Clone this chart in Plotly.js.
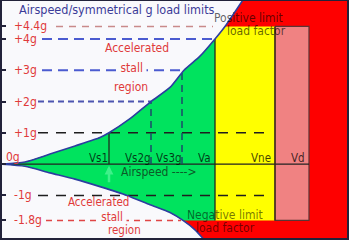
<!DOCTYPE html>
<html><head><meta charset="utf-8">
<script src="https://cdn.plot.ly/plotly-3.0.1.min.js"></script>
<style>html,body{margin:0;padding:0;background:#fff;overflow:hidden}#chart{width:350px;height:240px}</style>
</head><body><div id="chart"></div>
<script>
// ---------- data ----------
const gLevels = [4.4, 4, 3, 2, 1, 0, -1, -1.8];
const gLabels = ['+4.4g', '+4g', '+3g', '+2g', '+1g', '0g', '-1g', '-1.8g'];
const speedNames = ['Vs1', 'Vs2g', 'Vs3g', 'Va', 'Vne', 'Vd'];
const speedValues = [109, 151, 182, 215, 275, 309];
const stallSpeedLoads = [1, 2, 3];          // g reached at Vs1, Vs2g, Vs3g
const posLimit = 4.4;
const negLimit = -1.8;
const gAtVa = 4.0;
const vStallUpper = [0, 25, 50, 75, 100, 109, 130, 151, 170, 184, 200, 215, 225, 243];
const gStallUpper = [0, 0.07, 0.32, 0.58, 0.85, 1.0, 1.45, 2.0, 2.45, 3.0, 3.45, 4.0, 4.4, 5.25];
const vStallLower = [0, 25, 50, 75, 100, 127, 150, 170, 183, 195, 205];
const gStallLower = [0, -0.07, -0.28, -0.48, -0.72, -1.0, -1.3, -1.55, -1.8, -2.1, -2.45];

// ---------- layout helpers ----------
const M = {l: 2, r: 3, t: 1, b: 2};
const W = 350, H = 240;
const X0 = 2, X1 = 347;
const Y_TOP = 5.213, Y_BOT = -2.362;
const FONT = 'DejaVu Sans Condensed, DejaVu Sans, sans-serif';
function P(px, py) { return {x: (px - M.l) / (W - M.l - M.r), y: (H - M.b - py) / (H - M.t - M.b), xref: 'paper', yref: 'paper'}; }

const [Vs1, Vs2g, Vs3g, Va, Vne, Vd] = speedValues;
const traces = [];

// red: everything beyond the stall curves
{
  const x = vStallUpper.concat([X1 + 10, X1 + 10], vStallLower.slice().reverse());
  const y = gStallUpper.concat([Y_TOP + 1, Y_BOT - 1], gStallLower.slice().reverse());
  traces.push({x, y, mode: 'none', fill: 'toself', fillcolor: '#fe0000', hoverinfo: 'skip'});
}
// green: normal operating range up to Va
{
  const ux = [], uy = [], lx = [], ly = [];
  vStallUpper.forEach((v, i) => { if (v <= Va) { ux.push(v); uy.push(gStallUpper[i]); } });
  vStallLower.forEach((v, i) => { if (gStallLower[i] >= negLimit) { lx.push(v); ly.push(gStallLower[i]); } });
  const x = ux.concat([Va], lx.reverse());
  const y = uy.concat([negLimit], ly.reverse());
  traces.push({x, y, mode: 'none', fill: 'toself', fillcolor: '#00e35e', hoverinfo: 'skip'});
}
// yellow: Va to Vne
{
  const x = [], y = [];
  vStallUpper.forEach((v, i) => { if (v >= Va && gStallUpper[i] <= posLimit) { x.push(v); y.push(gStallUpper[i]); } });
  x.push(Vne, Vne, Va); y.push(posLimit, negLimit, negLimit);
  traces.push({x, y, mode: 'none', fill: 'toself', fillcolor: '#ffff00', hoverinfo: 'skip'});
}
// pink: Vne to Vd
traces.push({x: [Vne, Vd, Vd, Vne, Vne], y: [posLimit, posLimit, negLimit, negLimit, posLimit],
  mode: 'lines', fill: 'toself', fillcolor: '#f08282', line: {color: '#5a3434', width: 1.2}, hoverinfo: 'skip'});

// horizontal reference lines
const refStyle = {
  color: ['#c98a8a', '#4b5bd0', '#4b5bd0', '#4d55b0', '#1e1e1e', '#202020', '#1e1e1e', '#e04646'],
  dash:  ['7px,6px', '10px,6px', '10px,6px', '6px,4px', '10px,8px', 'solid', '10px,8px', '6px,5px'],
  width: [1.5, 2, 2, 2, 1.5, 1.3, 1.5, 1.5],
  x0:    [56, 42, 42, 38, 38, 0, 38, 46],
  x1:    [213, 213, 184, 151, 268, Vd, 268, 181]
};
gLevels.forEach((g, i) => {
  traces.push({x: [refStyle.x0[i], refStyle.x1[i]], y: [g, g], mode: 'lines',
    line: {color: refStyle.color[i], dash: refStyle.dash[i], width: refStyle.width[i]}, hoverinfo: 'skip'});
});

// vertical speed lines
traces.push({x: [Vs1, Vs1], y: [0, stallSpeedLoads[0]], mode: 'lines', line: {color: '#1e2e1e', width: 1.3}, hoverinfo: 'skip'});
[Vs2g, Vs3g].forEach((v, k) => {
  traces.push({x: [v, v], y: [0, stallSpeedLoads[k + 1]], mode: 'lines', line: {color: '#1d4a6a', width: 1.5, dash: '7px,5px'}, hoverinfo: 'skip'});
});
traces.push({x: [Va, Va], y: [negLimit, gAtVa], mode: 'lines', line: {color: '#1e2a1e', width: 1.3}, hoverinfo: 'skip'});
traces.push({x: [Vne, Vne], y: [negLimit, posLimit], mode: 'lines', line: {color: '#3a2a1a', width: 1.3}, hoverinfo: 'skip'});

// stall curves
traces.push({x: vStallUpper, y: gStallUpper, mode: 'lines', line: {color: '#2c3ea0', width: 1.6, shape: 'spline', smoothing: 0.6}, hoverinfo: 'skip'});
traces.push({x: vStallLower, y: gStallLower, mode: 'lines', line: {color: '#2c3ea0', width: 1.6, shape: 'spline', smoothing: 0.6}, hoverinfo: 'skip'});

// ---------- annotations ----------
const ann = [];
function txt(text, px, py, opts) {
  ann.push(Object.assign({text, showarrow: false, xanchor: 'center', yanchor: 'middle',
    font: {family: FONT, size: 12, color: '#e03a3a'}}, P(px, py), opts || {}));
}
txt('Airspeed/symmetrical g load limits', 17, 10, {xanchor: 'left', font: {family: FONT, size: 12.5, color: '#3b3b98'}});
gLevels.forEach((g, i) => {
  if (g === 0) {
    txt(gLabels[i], 4, 157, {xanchor: 'left'});
  } else {
    ann.push({text: gLabels[i], x: 12, y: g, xref: 'x', yref: 'y', xanchor: 'left', yanchor: 'middle', showarrow: false,
      font: {family: FONT, size: 12, color: '#e03a3a'}});
  }
});
txt('Accelerated', 137, 48);
txt(' stall ', 131, 68, {bgcolor: '#f9f9fc', borderpad: 0});
txt('region', 131, 87);
txt('Accelerated', 98, 202, {font: {family: FONT, size: 11.5, color: '#e03a3a'}});
txt(' stall ', 112, 217, {bgcolor: '#f9f9fc', borderpad: 0, font: {family: FONT, size: 11.5, color: '#e03a3a'}});
txt('region', 124, 230, {font: {family: FONT, size: 11.5, color: '#e03a3a'}});
txt('Positive limit', 248, 18, {font: {family: FONT, size: 12, color: 'rgba(0,0,0,0.62)'}});
txt('load factor', 256, 31, {font: {family: FONT, size: 12, color: 'rgba(0,0,0,0.62)'}});
txt('Negative limit', 225, 215, {font: {family: FONT, size: 12, color: 'rgba(0,0,0,0.55)'}});
txt('load factor', 226, 228, {font: {family: FONT, size: 12, color: 'rgba(0,0,0,0.55)'}});
const speedLabelX = [98.5, 137.5, 168.5, 204.5, 260.5, 298];
speedNames.forEach((n, i) => txt(n, speedLabelX[i], 158, {font: {family: FONT, size: 11.5, color: 'rgba(0,0,0,0.75)'}}));
txt('Airspeed ---->', 159, 172, {font: {family: FONT, size: 12, color: '#0c5a28'}});
ann.push({x: Vs1, y: -0.05, xref: 'x', yref: 'y', ax: 0, ay: 18, showarrow: true, arrowhead: 2, arrowsize: 0.7,
  arrowwidth: 2.5, arrowcolor: '#3ff08a', text: ''});

const layout = {
  width: W, height: H, margin: M, showlegend: false,
  paper_bgcolor: '#ffffff', plot_bgcolor: '#f9f9fc',
  xaxis: {range: [X0, X1], showgrid: false, zeroline: false, showticklabels: false, ticks: '',
    showline: true, mirror: true, linecolor: '#22223a', linewidth: 2, fixedrange: true},
  yaxis: {range: [Y_BOT, Y_TOP], showgrid: false, zeroline: false, showticklabels: false,
    ticks: 'inside', tickvals: gLevels, ticklen: 4, tickwidth: 2, tickcolor: '#22223a',
    showline: true, mirror: true, linecolor: '#22223a', linewidth: 2, fixedrange: true},
  annotations: ann
};
Plotly.newPlot('chart', traces, layout, {staticPlot: true, displayModeBar: false});
</script></body></html>
